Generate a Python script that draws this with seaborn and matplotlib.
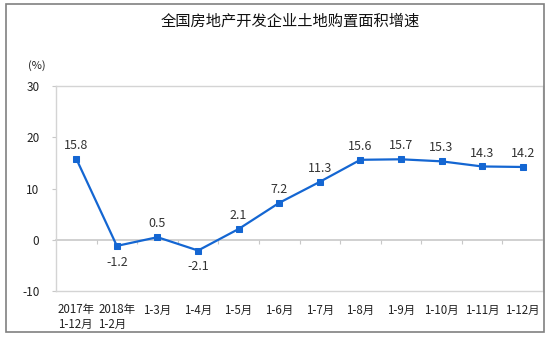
import numpy as np
import pandas as pd
import matplotlib
matplotlib.use("Agg")
import matplotlib.pyplot as plt
from matplotlib.patches import Rectangle
import seaborn as sns

title = "全国房地产开发企业土地购置面积增速"
categories = ["2017年\n1-12月", "2018年\n1-2月", "1-3月", "1-4月", "1-5月", "1-6月",
              "1-7月", "1-8月", "1-9月", "1-10月", "1-11月", "1-12月"]
values = [15.8, -1.2, 0.5, -2.1, 2.1, 7.2, 11.3, 15.6, 15.7, 15.3, 14.3, 14.2]
y_ticks = [-10, 0, 10, 20, 30]
unit_label = "(%)"

sns.set_theme(style="white")
plt.rcParams["font.family"] = ["Noto Sans CJK SC", "DejaVu Sans"]

df = pd.DataFrame({"idx": np.arange(len(categories)), "value": values})

fig = plt.figure(figsize=(5.5, 3.38), dpi=100)
ax = fig.add_axes([56 / 550, 1 - 291 / 338, 487 / 550, 205 / 338])

blue = "#1466d2"
sns.lineplot(data=df, x="idx", y="value", ax=ax, color=blue, linewidth=1.6,
             marker="s", markersize=4.5, markeredgecolor=blue, markerfacecolor=blue)

ax.set_xlim(-0.5, len(categories) - 0.5)
ax.set_ylim(-10, 30)
ax.set_yticks(y_ticks)
ax.set_yticklabels([str(t) for t in y_ticks], fontsize=8.5, color="#222222")
ax.set_xticks(df["idx"])
ax.set_xticklabels(categories, fontsize=8.3, color="#222222", linespacing=1.15,
                   multialignment="left")
ax.tick_params(axis="x", length=0, pad=9)
ax.tick_params(axis="y", length=3, width=0.8, color="#c8c8c8", direction="out",
               left=True, pad=9)
ax.set_xlabel("")
ax.set_ylabel("")

for s in ax.spines.values():
    s.set_color("#d4d4d4")
    s.set_linewidth(1.0)

# category axis at zero with ticks between categories
sec = ax.secondary_xaxis(0, transform=ax.transData)
sec.set_xticks(np.arange(len(categories) - 1) + 0.5)
sec.set_xticklabels([])
sec.tick_params(axis="x", length=3, width=0.8, color="#c8c8c8", direction="out")
sec.spines["bottom"].set_color("#c8c8c8")
sec.spines["bottom"].set_linewidth(1.2)

for i, v in enumerate(values):
    if v < 0:
        off, va = -7, "top"
    else:
        off, va = 5, "bottom"
    ax.annotate(f"{v:.1f}", (i, v), xytext=(0, off), textcoords="offset points",
                ha="center", va=va, fontsize=9, color="#333333")

fig.text(290 / 550, 1 - 21 / 338, title, ha="center", va="center", fontsize=11,
         color="#111111")
fig.text(37 / 550, 1 - 66 / 338, unit_label, ha="center", va="center", fontsize=8,
         color="#222222")

fig.patches.append(Rectangle((6 / 550, 6 / 338), 538 / 550, 328 / 338,
                             transform=fig.transFigure, fill=False,
                             edgecolor="#808080", linewidth=1.2))

fig.savefig("out.png", dpi=100)
